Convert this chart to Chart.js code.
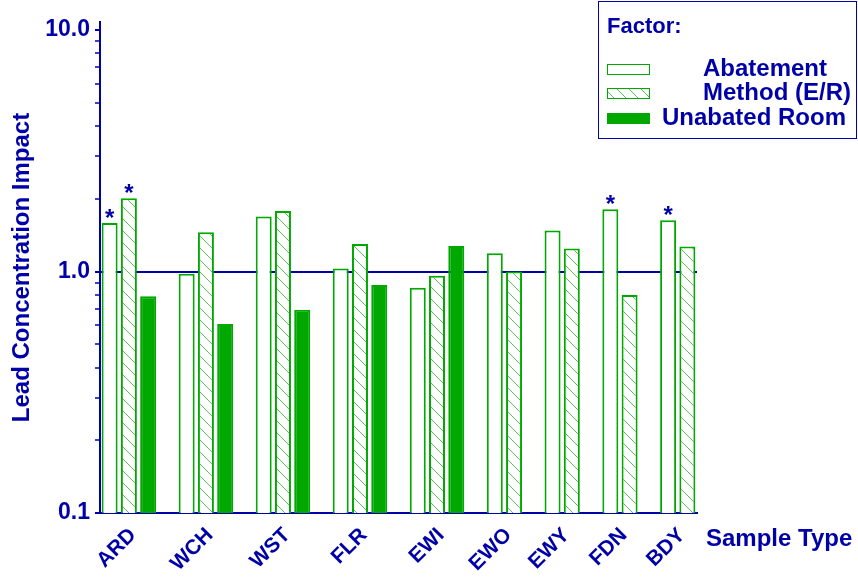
<!DOCTYPE html>
<html>
<head>
<meta charset="utf-8">
<script src="https://cdn.jsdelivr.net/npm/chart.js@4.4.0/dist/chart.umd.min.js"></script>
<style>
  body { margin: 0; background: #fff; }
  #wrap { width: 858px; height: 577px; position: relative; }
</style>
</head>
<body>
<div id="wrap"><canvas id="graph-area"></canvas></div>
<script>
const categories = ['ARD', 'WCH', 'WST', 'FLR', 'EWI', 'EWO', 'EWY', 'FDN', 'BDY'];
const abatement = [1.59, 0.98, 1.69, 1.03, 0.856, 1.19, 1.48, 1.81, 1.63];
const method = [2.01, 1.455, 1.78, 1.30, 0.96, 1.0, 1.245, 0.80, 1.27];
const unabated = [0.79, 0.607, 0.694, 0.88, 1.277, null, null, null, null];
const abatementStar = [true, false, false, false, false, false, false, true, true];
const methodStar = [true, false, false, false, false, false, false, false, false];
const unabatedStar = [false, false, false, false, false, false, false, false, false];

const yMin = 0.1;
const yMax = 10.8;
const yTickValues = [0.1, 0.2, 0.3, 0.4, 0.5, 0.6, 0.7, 0.8, 0.9,
  1, 2, 3, 4, 5, 6, 7, 8, 9, 10];
const yMajorValues = [0.1, 1, 10];
const yMajorLabels = ['0.1', '1.0', '10.0'];

const BLUE = '#0000a8';
const GREEN = '#00a800';
const HATCH = '#55c455';
const FONT = 'Liberation Sans';

function hatchPattern() {
  const c = document.createElement('canvas');
  c.width = 12;
  c.height = 12;
  const g = c.getContext('2d');
  g.fillStyle = '#fff';
  g.fillRect(0, 0, 12, 12);
  g.strokeStyle = HATCH;
  g.lineWidth = 1;
  g.beginPath();
  g.moveTo(-2, -2);
  g.lineTo(14, 14);
  g.stroke();
  return g.createPattern(c, 'repeat');
}
const pattern = hatchPattern();

// one slot per drawn bar, plus one empty slot between groups
const series = [
  {label: 'Abatement', values: abatement, stars: abatementStar, points: []},
  {label: 'Method (E/R)', values: method, stars: methodStar, points: []},
  {label: 'Unabated Room', values: unabated, stars: unabatedStar, points: []}
];
const groupCenters = [];
let slot = 0;
categories.forEach((cat, i) => {
  if (i > 0) slot++;
  const start = slot;
  series.forEach(s => {
    if (s.values[i] == null) return;
    s.points.push({x: slot, y: s.values[i], star: s.stars[i]});
    slot++;
  });
  groupCenters.push((start + slot - 1) / 2);
});
const slotCount = slot;

const styles = [
  {backgroundColor: '#fff', borderColor: GREEN},
  {backgroundColor: pattern, borderColor: GREEN},
  {backgroundColor: GREEN, borderColor: GREEN}
];

const datasets = series.map((s, i) => ({
  label: s.label,
  data: s.points,
  backgroundColor: styles[i].backgroundColor,
  borderColor: styles[i].borderColor,
  borderWidth: 2,
  grouped: false,
  barPercentage: 0.83,
  categoryPercentage: 1
}));

const decor = {
  id: 'decor',
  afterDatasetsDraw(chart) {
    const ctx = chart.ctx;
    ctx.save();
    ctx.fillStyle = BLUE;
    ctx.font = 'bold 24px "' + FONT + '"';
    ctx.textAlign = 'center';
    ctx.textBaseline = 'alphabetic';
    chart.data.datasets.forEach((ds, di) => {
      const meta = chart.getDatasetMeta(di);
      meta.data.forEach((bar, j) => {
        if (ds.data[j].star) ctx.fillText('*', bar.x, bar.y + 3);
      });
    });
    ctx.restore();
  },
  afterDraw(chart) {
    const ctx = chart.ctx;
    ctx.save();
    // axis title on the right of the x axis
    ctx.fillStyle = BLUE;
    ctx.font = 'bold 24px "' + FONT + '"';
    ctx.textAlign = 'left';
    ctx.textBaseline = 'alphabetic';
    ctx.fillText('Sample Type', 706, 546);

    // legend box
    ctx.strokeStyle = BLUE;
    ctx.lineWidth = 1;
    ctx.strokeRect(598.5, 1.5, 258, 137);
    ctx.font = 'bold 22px "' + FONT + '"';
    ctx.fillText('Factor:', 607, 33);
    ctx.font = 'bold 24px "' + FONT + '"';
    const rows = [
      {text: 'Abatement', x: 703, y: 64},
      {text: 'Method (E/R)', x: 703, y: 88},
      {text: 'Unabated Room', x: 662, y: 113}
    ];
    rows.forEach((r, i) => {
      ctx.fillStyle = styles[i].backgroundColor;
      ctx.fillRect(607, r.y, 43, 11);
      ctx.strokeStyle = GREEN;
      ctx.lineWidth = 1;
      ctx.strokeRect(607.5, r.y + 0.5, 42, 10);
      ctx.fillStyle = BLUE;
      ctx.fillText(r.text, r.x, r.y + 11.5);
    });
    ctx.restore();
  }
};

Chart.defaults.font.family = FONT;
Chart.defaults.font.weight = 'bold';
Chart.defaults.color = BLUE;

new Chart(document.querySelector('#graph-area').getContext('2d'), {
  type: 'bar',
  data: {datasets},
  options: {
    responsive: true,
    maintainAspectRatio: false,
    animation: false,
    devicePixelRatio: 1,
    layout: {padding: {top: 22, right: 161, left: 0, bottom: 0}},
    plugins: {legend: {display: false}, tooltip: {enabled: false}},
    scales: {
      x: {
        type: 'linear',
        min: -0.5,
        max: slotCount - 0.5,
        offset: false,
        grid: {display: false, drawTicks: false},
        border: {display: true, color: BLUE, width: 2},
        afterBuildTicks: axis => {
          axis.ticks = groupCenters.map(v => ({value: v}));
        },
        afterFit: axis => { axis.height = 64; },
        ticks: {
          autoSkip: false,
          minRotation: 45,
          maxRotation: 45,
          padding: 10,
          labelOffset: 4,
          color: BLUE,
          font: {size: 21, weight: 'bold'},
          callback: (value, index) => categories[index]
        }
      },
      y: {
        type: 'logarithmic',
        min: yMin,
        max: yMax,
        afterBuildTicks: axis => {
          axis.ticks = yTickValues.map(v => ({value: v, major: yMajorValues.includes(v)}));
        },
        afterFit: axis => { axis.width = 100; },
        grid: {
          drawOnChartArea: true,
          drawTicks: true,
          tickLength: 5,
          color: c => (c.tick && c.tick.value === 1 ? BLUE : 'rgba(0,0,0,0)'),
          lineWidth: 2,
          tickColor: BLUE,
          tickWidth: c => (c.tick && c.tick.major ? 2 : 1.5)
        },
        border: {display: true, color: BLUE, width: 2},
        ticks: {
          padding: 5,
          color: BLUE,
          font: {size: 23, weight: 'bold'},
          autoSkip: false,
          callback: value => {
            const k = yMajorValues.indexOf(value);
            return k >= 0 ? yMajorLabels[k] : '';
          }
        },
        title: {
          display: true,
          text: 'Lead Concentration Impact',
          color: BLUE,
          font: {size: 24, weight: 'bold'},
          padding: {top: 8, bottom: 0}
        }
      }
    }
  },
  plugins: [decor]
});
</script>
</body>
</html>
